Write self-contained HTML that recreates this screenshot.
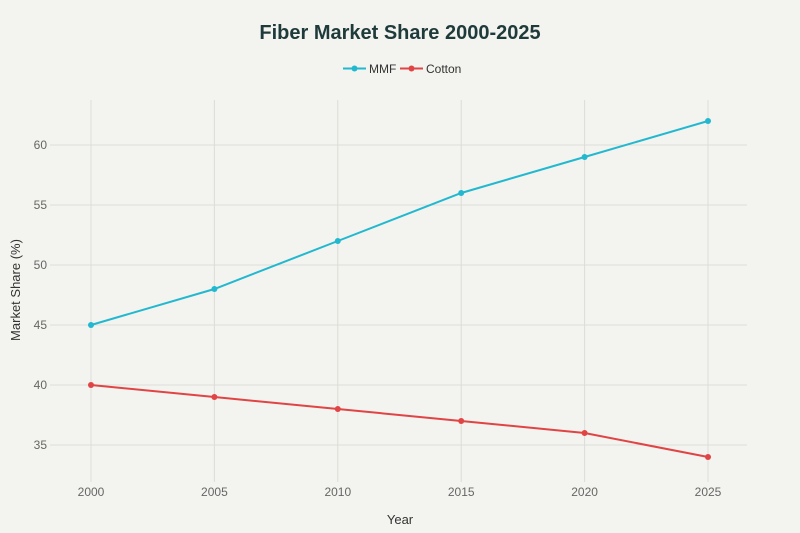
<!DOCTYPE html>
<html><head><meta charset="utf-8"><style>
html,body{margin:0;padding:0;background:#f3f3ef;}
svg{display:block;font-family:"Liberation Sans",sans-serif;}
</style></head><body>
<svg width="800" height="533" viewBox="0 0 800 533">
<rect width="800" height="533" fill="#f3f3ef"/>
<text x="400" y="39" text-anchor="middle" font-size="20" font-weight="bold" fill="#1f3a3a">Fiber Market Share 2000-2025</text>
<g font-size="12" fill="#333">
<line x1="343" y1="68.5" x2="366" y2="68.5" stroke="#22b8cf" stroke-width="2"/><circle cx="354.5" cy="68.5" r="3" fill="#22b8cf"/>
<text x="369" y="73">MMF</text>
<line x1="400" y1="68.5" x2="423" y2="68.5" stroke="#e04444" stroke-width="2"/><circle cx="411.5" cy="68.5" r="3" fill="#e04444"/>
<text x="426" y="73">Cotton</text>
</g>
<g stroke="#dcdcd8" stroke-width="1">
<line x1="50" y1="145" x2="747" y2="145"/><line x1="50" y1="205" x2="747" y2="205"/><line x1="50" y1="265" x2="747" y2="265"/><line x1="50" y1="325" x2="747" y2="325"/><line x1="50" y1="385" x2="747" y2="385"/><line x1="50" y1="445" x2="747" y2="445"/>
<line x1="91" y1="100" x2="91" y2="482"/><line x1="214.4" y1="100" x2="214.4" y2="482"/><line x1="337.8" y1="100" x2="337.8" y2="482"/><line x1="461.2" y1="100" x2="461.2" y2="482"/><line x1="584.6" y1="100" x2="584.6" y2="482"/><line x1="708" y1="100" x2="708" y2="482"/>
</g>
<g font-size="12" fill="#666" text-anchor="end">
<text x="47" y="149">60</text><text x="47" y="209">55</text><text x="47" y="269">50</text><text x="47" y="329">45</text><text x="47" y="389">40</text><text x="47" y="449">35</text>
</g>
<g font-size="12" fill="#666" text-anchor="middle">
<text x="91" y="496">2000</text><text x="214.4" y="496">2005</text><text x="337.8" y="496">2010</text><text x="461.2" y="496">2015</text><text x="584.6" y="496">2020</text><text x="708" y="496">2025</text>
</g>
<text x="400" y="524" text-anchor="middle" font-size="13" fill="#333">Year</text>
<text transform="translate(20,290) rotate(-90)" text-anchor="middle" font-size="13" fill="#333">Market Share (%)</text>
<polyline fill="none" stroke="#22b8cf" stroke-width="2" points="91,325 214.4,289 337.8,241 461.2,193 584.6,157 708,121"/>
<g fill="#22b8cf"><circle cx="91" cy="325" r="3"/><circle cx="214.4" cy="289" r="3"/><circle cx="337.8" cy="241" r="3"/><circle cx="461.2" cy="193" r="3"/><circle cx="584.6" cy="157" r="3"/><circle cx="708" cy="121" r="3"/></g>
<polyline fill="none" stroke="#e04444" stroke-width="2" points="91,385 214.4,397 337.8,409 461.2,421 584.6,433 708,457"/>
<g fill="#e04444"><circle cx="91" cy="385" r="3"/><circle cx="214.4" cy="397" r="3"/><circle cx="337.8" cy="409" r="3"/><circle cx="461.2" cy="421" r="3"/><circle cx="584.6" cy="433" r="3"/><circle cx="708" cy="457" r="3"/></g>
</svg>
</body></html>
